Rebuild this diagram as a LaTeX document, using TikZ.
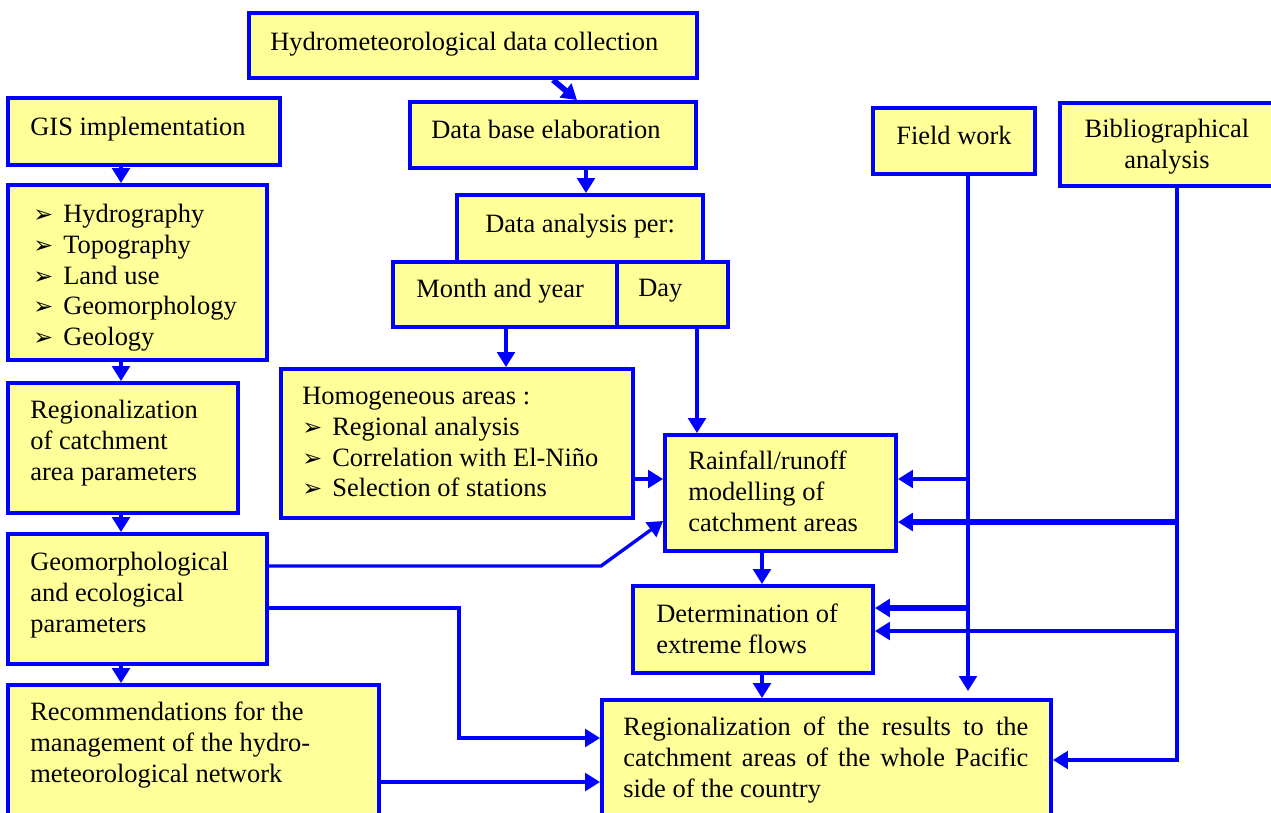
\documentclass[tikz,border=0pt]{standalone}
\usepackage{fontspec}
\setmainfont{Liberation Serif}
\newfontfamily\dejavu{DejaVu Sans}
\usetikzlibrary{arrows.meta,fit,calc}
\definecolor{yfill}{HTML}{FFFF99}
\definecolor{bline}{HTML}{0000FF}
\tikzset{
  box/.style={rectangle, draw=bline, fill=yfill, line width=2.2pt, inner sep=0pt},
  txt/.style={anchor=north west, inner sep=0pt, align=left, font=\fontsize{15}{17.4}\selectfont},
  ctxt/.style={anchor=north, inner sep=0pt, align=center, font=\fontsize{15}{17.4}\selectfont},
  conn/.style={draw=bline, line width=1.9pt},
  arr/.style={conn, -{Triangle[length=8.5pt,width=10pt]}},
  heavy/.style={line width=3.2pt},
}
\newcommand{\bul}{\makebox[17pt][l]{\dejavu\fontsize{13.5}{13.5}\selectfont ➢}}
\begin{document}
\begin{tikzpicture}[x=0.567pt,y=-0.567pt]
\useasboundingbox (0,0) rectangle (1271,812);
% boxes
\node[box, fit={(249,13) (697,78)}] (hyd) {};
\node[box, fit={(8,98) (280,165)}] (gis) {};
\node[box, fit={(410,102) (696,168)}] (db) {};
\node[box, fit={(873,108) (1035,174)}] (field) {};
\node[box, fit={(1060,103) (1295,186)}] (bib) {};
\node[box, fit={(8,185) (267,360)}] (list) {};
\node[box, fit={(457,195) (703,262)}] (da) {};
\node[box, fit={(393,262) (617,327)}] (month) {};
\node[box, fit={(617,262) (728,327)}] (day) {};
\node[box, fit={(281,369) (633,518)}] (homog) {};
\node[box, fit={(8,383) (238,513)}] (regp) {};
\node[box, fit={(665,435) (896,551)}] (rain) {};
\node[box, fit={(8,534) (267,664)}] (geo) {};
\node[box, fit={(633,586) (873,673)}] (det) {};
\node[box, fit={(8,685) (379,830)}] (rec) {};
\node[box, fit={(602,700) (1051,830)}] (res) {};
% texts
\node[txt] (thyd) at (270,32) {Hydrometeorological data collection};
\node[txt] (tgis) at (30,117) {GIS implementation};
\node[txt] (tdb) at (431,120) {Data base elaboration};
\node[ctxt] (tfield) at (954,126) {Field work};
\node[ctxt] (tbib) at (1167,119) {Bibliographical\\analysis};
\node[txt] (tlist) at (33,204) {\bul Hydrography\\\bul Topography\\\bul Land use\\\bul Geomorphology\\\bul Geology};
\node[txt] (tda) at (485,214) {Data analysis per:};
\node[txt] (tmonth) at (416,279) {Month and year};
\node[txt] (tday) at (638,279) {Day};
\node[txt] (thomog) at (302,387) {Homogeneous areas :\\\bul Regional analysis\\\bul Correlation with El-Niño\\\bul Selection of stations};
\node[txt] (tregp) at (30,400) {Regionalization\\of catchment\\area parameters};
\node[txt] (train) at (688,451) {Rainfall/runoff\\modelling of\\catchment areas};
\node[txt] (tgeo) at (30,552) {Geomorphological\\and ecological\\parameters};
\node[txt] (tdet) at (656,604) {Determination of\\extreme flows};
\node[txt] (trec) at (30,702) {Recommendations for the\\management of the hydro-\\meteorological network};
\node[txt] (tres) at (623,717) {\makebox[229.6pt][s]{Regionalization of the results to the}\\\makebox[229.6pt][s]{catchment areas of the whole Pacific}\\side of the country};
% helper coordinates
\coordinate (cL) at (121,0);
\coordinate (cD) at (586,0);
\coordinate (cM) at (506,0);
\coordinate (cY) at (697,0);
\coordinate (cR) at (762,0);
\coordinate (cF) at (968,0);
\coordinate (cB) at (1177,0);
\coordinate (y1) at (0,479);
\coordinate (y2) at (0,522);
\coordinate (y3) at (0,608);
\coordinate (y4) at (0,631);
\coordinate (y5) at (0,760);
\coordinate (y6) at (0,566);
\coordinate (y7) at (0,782);
\coordinate (y8) at (0,521);
\coordinate (gk) at (601,566);
\coordinate (gc) at (459,738);
% connectors
\draw[arr, heavy] ($(hyd.south)+(80,0)$) -- ($(db.north)+(24,0)$);
\draw[arr] (gis.south -| cL) -- (list.north -| cL);
\draw[arr] (list.south -| cL) -- (regp.north -| cL);
\draw[arr] (regp.south -| cL) -- (geo.north -| cL);
\draw[arr] (geo.south -| cL) -- (rec.north -| cL);
\draw[arr] (db.south -| cD) -- (da.north -| cD);
\draw[arr] (month.south -| cM) -- (homog.north -| cM);
\draw[arr] (day.south -| cY) -- (rain.north -| cY);
\draw[arr] (homog.east |- y1) -- (rain.west |- y1);
\draw[arr] (rain.south -| cR) -- (det.north -| cR);
\draw[arr] (det.south -| cR) -- (res.north -| cR);
\draw[arr, shorten >=4pt] (field.south -| cF) -- (res.north -| cF);
\draw[arr] (cF |- y1) -- (rain.east |- y1);
\draw[arr, heavy] (cF |- y3) -- (det.east |- y3);
\draw[arr] (bib.south -| cB) -- (cB |- y5) -- (res.east |- y5);
\draw[arr, heavy] (cB |- y2) -- (rain.east |- y2);
\draw[arr] (cB |- y4) -- (det.east |- y4);
\draw[arr] (geo.east |- y6) -- (gk) -- (rain.west |- y8);
\draw[arr] (geo.east |- y3) -| (gc) -- (res.west |- gc);
\draw[arr] (rec.east |- y7) -- (res.west |- y7);
\end{tikzpicture}
\end{document}
